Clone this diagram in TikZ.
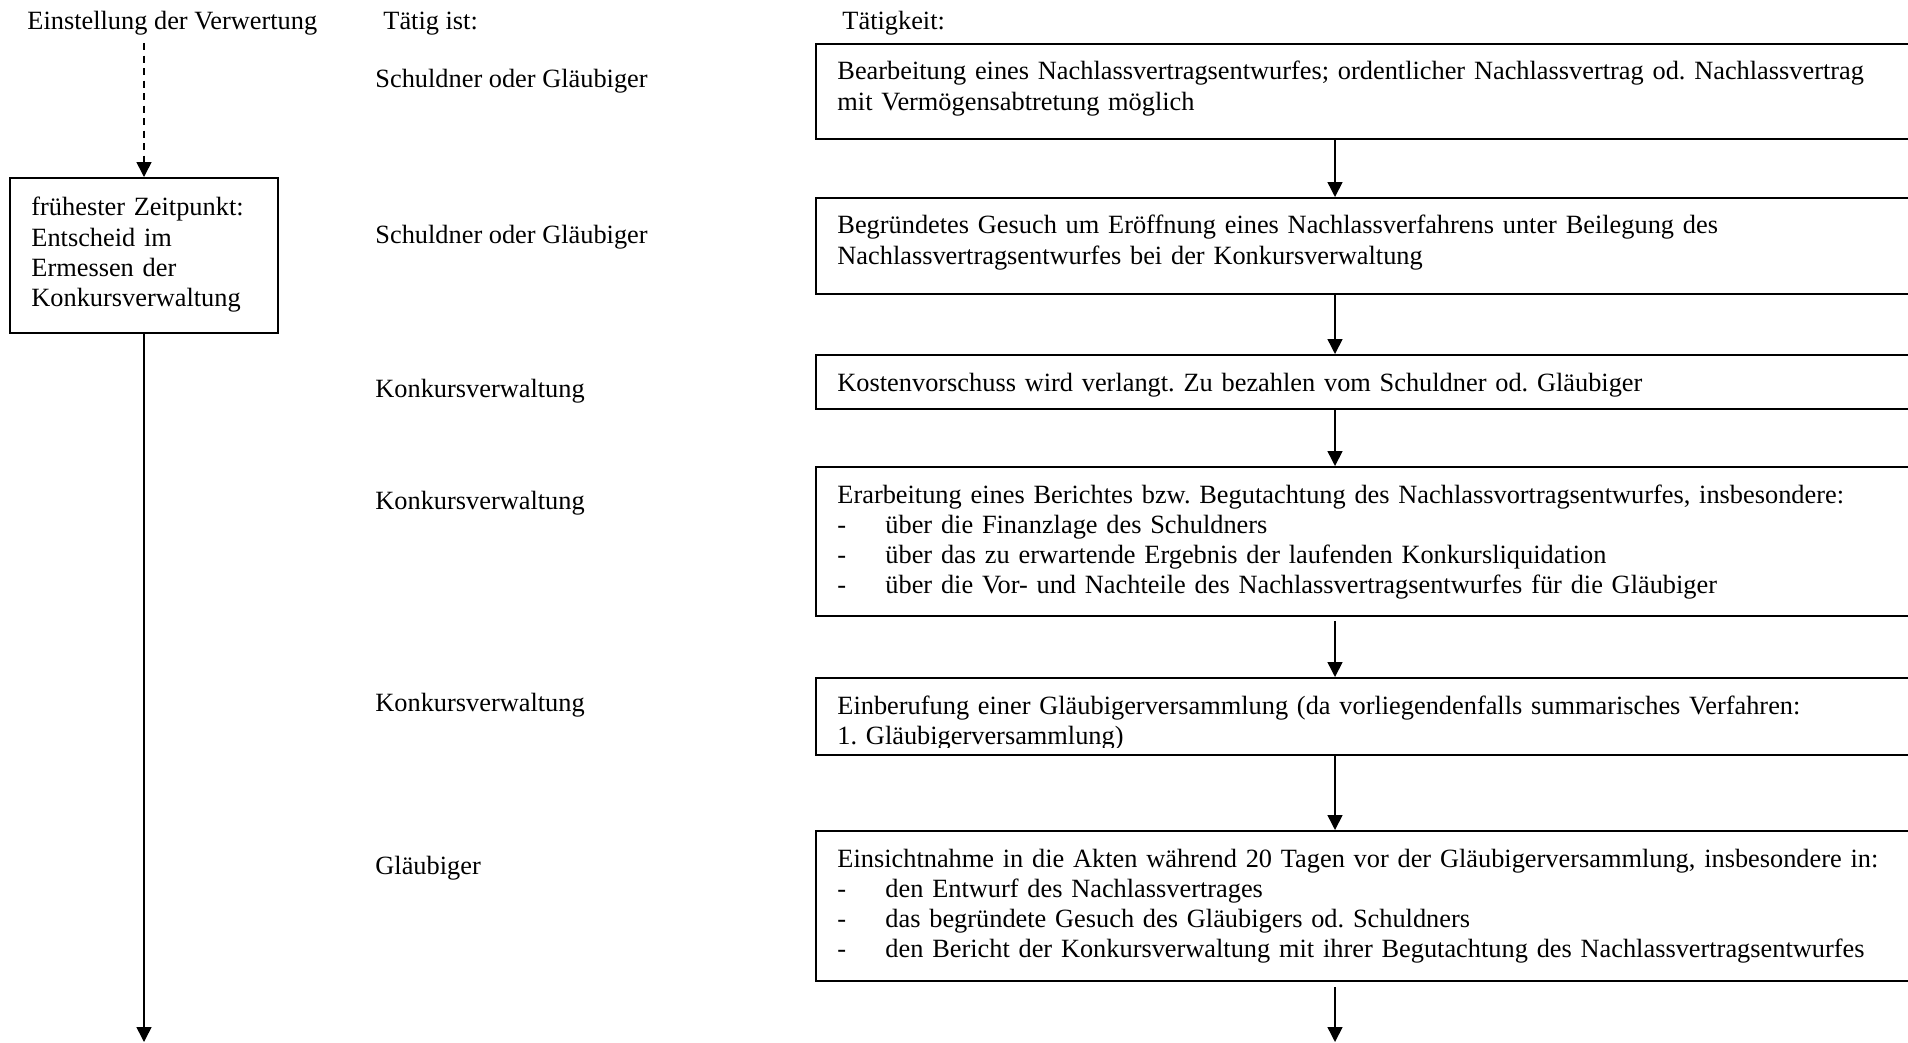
\documentclass[tikz,border=0pt]{standalone}
\usepackage{fontspec}
\setmainfont{Liberation Serif}
\usetikzlibrary{arrows.meta,fit}
\newcommand{\spiegel}{\makebox[0.768cm][l]{-}}
\frenchspacing
\begin{document}
\begin{tikzpicture}[x=0.016cm,y=-0.016cm,
  lbl/.style={anchor=base west,inner sep=0,font=\fontsize{12}{13.7}\selectfont},
  txt/.style={lbl,text width=17.2cm,align=left},
  box/.style={draw,line width=0.9pt,inner sep=0},
  arr/.style={line width=0.7pt,-{Triangle[length=6.8pt,width=6.8pt]}},
  dsh/.style={arr,dash pattern=on 3.2pt off 2.5pt}]
\useasboundingbox (0,0) rectangle (1908,1043);
% column heads
\node[lbl] (kopf1) at (27,30) {Einstellung der Verwertung};
\node[lbl] (kopf2) at (383,30) {Tätig ist:};
\node[lbl] (kopf3) at (842,30) {Tätigkeit:};
% left column
\coordinate (d0) at (144,43);
\coordinate (d1) at (144,1042);
\node[box,fit={(10,178) (278,333)}] (zeit) {};
\node[txt,text width=4cm] (zeittxt) at (31,216) {frühester Zeitpunkt:\\Entscheid im\\Ermessen der\\Konkursverwaltung};
\draw[dsh] (d0) -- (zeit);
\draw[arr] (zeit) -- (d1);
% who is acting
\node[lbl] (wer1) at (375,88) {Schuldner oder Gläubiger};
\node[lbl] (wer2) at (375,244) {Schuldner oder Gläubiger};
\node[lbl] (wer3) at (375,397) {Konkursverwaltung};
\node[lbl] (wer4) at (375,509) {Konkursverwaltung};
\node[lbl] (wer5) at (375,711) {Konkursverwaltung};
\node[lbl] (wer6) at (375,874) {Gläubiger};
% activities
\node[box,fit={(816,44) (1915,139)}] (b1) {};
\node[box,fit={(816,198) (1915,294)}] (b2) {};
\node[box,fit={(816,355) (1915,409)}] (b3) {};
\node[box,fit={(816,467) (1915,616)}] (b4) {};
\node[box,fit={(816,678) (1915,755)}] (b5) {};
\node[box,fit={(816,831) (1915,981)}] (b6) {};
\node[txt] (t1) at (837,80) {Bearbeitung eines Nachlassvertragsentwurfes; ordentlicher Nachlassvertrag od. Nachlassvertrag\\mit Vermögensabtretung möglich};
\node[txt] (t2) at (837,234) {Begründetes Gesuch um Eröffnung eines Nachlassverfahrens unter Beilegung des\\Nachlassvertragsentwurfes bei der Konkursverwaltung};
\node[txt] (t3) at (837,391) {Kostenvorschuss wird verlangt. Zu bezahlen vom Schuldner od. Gläubiger};
\node[txt] (t4) at (837,503) {Erarbeitung eines Berichtes bzw. Begutachtung des Nachlassvortragsentwurfes, insbesondere:\\
  \spiegel über die Finanzlage des Schuldners\\
  \spiegel über das zu erwartende Ergebnis der laufenden Konkursliquidation\\
  \spiegel über die Vor- und Nachteile des Nachlassvertragsentwurfes für die Gläubiger};
\begin{scope}
\clip (816,678) rectangle (1915,747);
\node[txt] (t5) at (837,714) {Einberufung einer Gläubigerversammlung (da vorliegendenfalls summarisches Verfahren:\\1. Gläubigerversammlung)};
\end{scope}
\node[txt] (t6) at (837,867) {Einsichtnahme in die Akten während 20 Tagen vor der Gläubigerversammlung, insbesondere in:\\
  \spiegel den Entwurf des Nachlassvertrages\\
  \spiegel das begründete Gesuch des Gläubigers od. Schuldners\\
  \spiegel den Bericht der Konkursverwaltung mit ihrer Begutachtung des Nachlassvertragsentwurfes};
% flow
\coordinate (ax) at (1335,0);
\coordinate (ende) at (1335,1042);
\draw[arr] (b1.south -| ax) -- (b2.north -| ax);
\draw[arr] (b2.south -| ax) -- (b3.north -| ax);
\draw[arr] (b3.south -| ax) -- (b4.north -| ax);
\draw[arr,shorten <=1.8pt] (b4.south -| ax) -- (b5.north -| ax);
\draw[arr] (b5.south -| ax) -- (b6.north -| ax);
\draw[arr,shorten <=2.2pt] (b6.south -| ax) -- (ende);
\end{tikzpicture}
\end{document}
